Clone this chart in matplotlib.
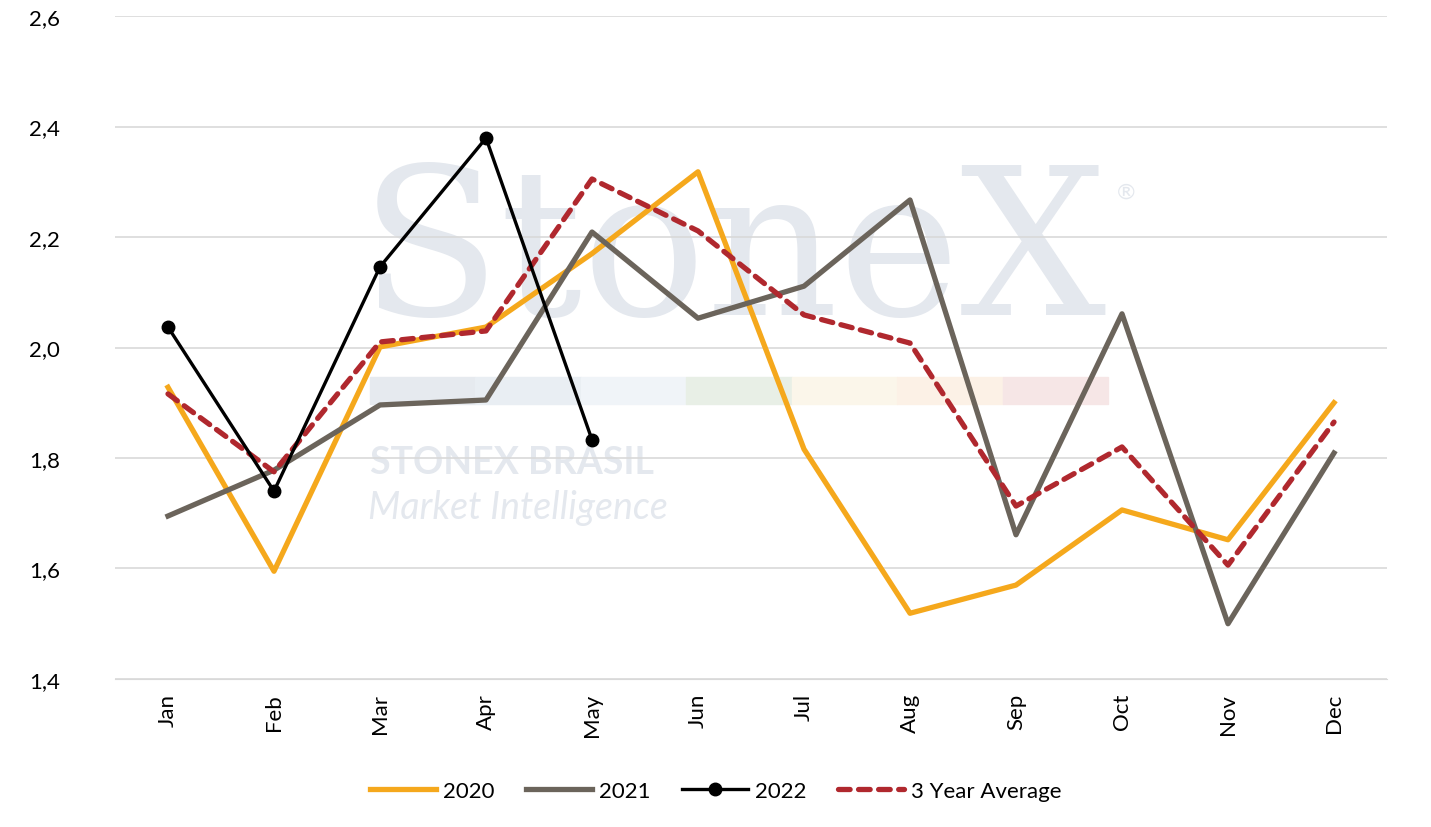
import numpy as np
import matplotlib.pyplot as plt
from matplotlib.patches import Rectangle

# - Data - #
months = ["Jan", "Feb", "Mar", "Apr", "May", "Jun",
          "Jul", "Aug", "Sep", "Oct", "Nov", "Dec"]
y2020 = [1.928, 1.595, 2.001, 2.037, 2.17, 2.318, 1.816, 1.519, 1.570, 1.706, 1.652, 1.900]
y2021 = [1.695, 1.778, 1.896, 1.905, 2.209, 2.053, 2.111, 2.267, 1.661, 2.061, 1.500, 1.809]
y2022 = [2.037, 1.740, 2.146, 2.379, 1.833]
avg3 = [1.916, 1.775, 2.010, 2.030, 2.305, 2.211, 2.059, 2.008, 1.713, 1.820, 1.606, 1.865]
yticks = [1.4, 1.6, 1.8, 2.0, 2.2, 2.4, 2.6]

plt.rcParams['font.family'] = ['Lato', 'DejaVu Sans']

W, H = 1431, 828
fig = plt.figure(figsize=(W / 100, H / 100), dpi=100)
ax = fig.add_axes([115 / W, 1 - 680 / H, (1387 - 115) / W, (680 - 17) / H])
tf = fig.transFigure

# - Watermark (behind grid and lines) - #
wm = "#e4e8ee"
ax.text(733 / W, 1 - 258 / H, "StoneX", fontsize=148, family="DejaVu Serif",
        color=wm, ha="center", va="center", zorder=0.1, transform=tf)
ax.text(1126 / W, 1 - 193 / H, "®", fontsize=16, color=wm, ha="center", va="center",
        zorder=0.1, transform=tf)
band = ["#e6eaef", "#e9eef3", "#f0f4f8", "#e8efe6", "#fbf6ea", "#fcf1e6", "#f6e6e6"]
bx = np.linspace(370, 1108, len(band) + 1)
for i, c in enumerate(band):
    ax.add_patch(Rectangle((bx[i] / W, 1 - 405 / H), (bx[i + 1] - bx[i]) / W, 27 / H,
                           transform=tf, color=c, zorder=0.1, clip_on=False))
ax.text(370 / W, 1 - 463 / H, "STONEX BRASIL", fontsize=27, weight="bold",
        color=wm, ha="left", va="center", zorder=0.1, transform=tf)
ax.text(368 / W, 1 - 508 / H, "Market Intelligence", fontsize=27, style="italic",
        color=wm, ha="left", va="center", zorder=0.1, transform=tf)

# - Lines - #
x = np.arange(len(months))
ax.plot(x, y2020, color="#f5a81c", lw=3.8, label="2020", zorder=3)
ax.plot(x, y2021, color="#6b645b", lw=3.8, label="2021", zorder=3)
ax.plot(x[:len(y2022)], y2022, color="black", lw=2.4, marker="o", ms=9, label="2022", zorder=5)
ax.plot(x, avg3, color="#b0282e", lw=3.8, ls=(0, (2.2, 1.6)), dash_capstyle="round",
        label="3 Year Average", zorder=4)

# - Axes - #
ax.set_xlim(-0.5, 11.5)
ax.set_ylim(1.4, 2.6)
ax.set_yticks(yticks)
ax.set_yticklabels([f"{v:.1f}".replace(".", ",") for v in yticks], fontsize=16)
ax.set_xticks(x)
ax.set_xticklabels(months, rotation=90, fontsize=16)
ax.grid(axis="y", color="#d9d9d9", lw=1.2, zorder=0.5)
ax.set_axisbelow(True)
for s in ["top", "right", "left"]:
    ax.spines[s].set_visible(False)
ax.spines["bottom"].set_color("#d9d9d9")
ax.tick_params(length=0, pad=10)
ax.tick_params(axis="y", pad=62)
for lbl in ax.get_yticklabels():
    lbl.set_horizontalalignment("left")

leg = fig.legend(loc="center", bbox_to_anchor=(0.5, 1 - 792 / H), ncol=4, frameon=False,
                 fontsize=16, handlelength=3.0, columnspacing=1.4, handletextpad=0.3)

fig.savefig("out.png", dpi=100)
